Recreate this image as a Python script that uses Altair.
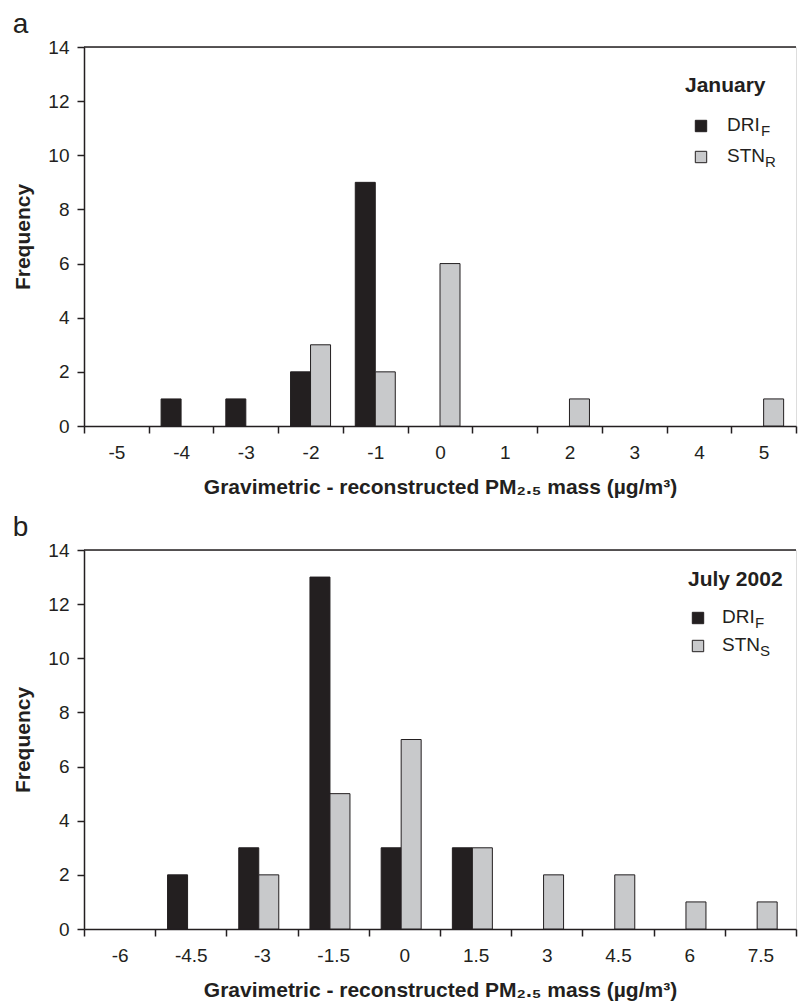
import altair as alt
import pandas as pd

# ---------------- data ----------------
cats_a = ["-5", "-4", "-3", "-2", "-1", "0", "1", "2", "3", "4", "5"]
dri_a = [0, 1, 1, 2, 9, 0, 0, 0, 0, 0, 0]
stn_a = [0, 0, 0, 3, 2, 6, 0, 1, 0, 0, 1]

cats_b = ["-6", "-4.5", "-3", "-1.5", "0", "1.5", "3", "4.5", "6", "7.5"]
dri_b = [0, 2, 3, 13, 3, 3, 0, 0, 0, 0]
stn_b = [0, 0, 2, 5, 7, 3, 2, 2, 1, 1]

methods = ["DRI", "STN"]
y_ticks = [0, 2, 4, 6, 8, 10, 12, 14]
x_title = "Gravimetric - reconstructed PM\u2082.\u2085 mass (\u00b5g/m\u00b3)"

INK = "#231f20"
BLACK_BAR = "#231f20"
GRAY_BAR = "#c8c9cb"
FONT = "Liberation Sans"


def long_df(cats, dri, stn):
    rows = []
    for c, d, s in zip(cats, dri, stn):
        if d:
            rows.append({"bin": c, "method": "DRI", "count": d})
        if s:
            rows.append({"bin": c, "method": "STN", "count": s})
    return pd.DataFrame(rows)


def panel(letter, cats, dri, stn, leg_title, stn_sub, width, off_pad, L):
    df = long_df(cats, dri, stn)
    bars = alt.Chart(df).mark_bar(stroke=INK, strokeWidth=1).encode(
        x=alt.X(
            "bin:N",
            sort=cats,
            scale=alt.Scale(domain=cats, paddingInner=0, paddingOuter=0),
            axis=alt.Axis(
                title=x_title,
                labelAngle=0,
                tickBand="extent",
                tickSize=7,
                tickWidth=1.5,
                tickColor=INK,
                domainColor=INK,
                domainWidth=1.5,
                labelFontSize=19,
                labelColor=INK,
                labelPadding=10,
                titleFontSize=21,
                titleFontWeight="bold",
                titleColor=INK,
                titlePadding=14,
                labelFont=FONT,
                titleFont=FONT,
            ),
        ),
        xOffset=alt.XOffset(
            "method:N",
            scale=alt.Scale(domain=methods, paddingInner=0, paddingOuter=off_pad),
        ),
        y=alt.Y(
            "count:Q",
            scale=alt.Scale(domain=[0, 14], nice=False),
            axis=alt.Axis(
                title="Frequency",
                values=y_ticks,
                grid=False,
                tickSize=7,
                tickWidth=1.5,
                tickColor=INK,
                domainColor=INK,
                domainWidth=1.5,
                labelFontSize=19,
                labelColor=INK,
                labelPadding=8,
                titleFontSize=21,
                titleFontWeight="bold",
                titleColor=INK,
                titlePadding=14,
                labelFont=FONT,
                titleFont=FONT,
            ),
        ),
        color=alt.Color(
            "method:N",
            scale=alt.Scale(domain=methods, range=[BLACK_BAR, GRAY_BAR]),
            legend=None,
        ),
    )

    top = alt.Chart(pd.DataFrame({"top": [14]})).mark_rule(
        color=INK, strokeWidth=1.5
    ).encode(y="top:Q")

    one = pd.DataFrame({"k": [0]})

    def txt(s, x, y, size, weight="normal"):
        return alt.Chart(one).mark_text(
            text=s, align="left", baseline="alphabetic", fontSize=size,
            fontWeight=weight, font=FONT, color=INK
        ).encode(x=alt.value(x), y=alt.value(y))

    def sq(x, y, fill):
        return alt.Chart(one).mark_square(
            size=130, fill=fill, stroke=INK, strokeWidth=1, opacity=1
        ).encode(x=alt.value(x), y=alt.value(y))

    legend = [
        txt(leg_title, L["tx"], L["ty"], 21, "bold"),
        sq(L["sx"], L["s1"], BLACK_BAR),
        sq(L["sx"], L["s2"], GRAY_BAR),
        txt("DRI", L["lx"], L["b1"], 19),
        txt("F", L["f1"], L["b1"] + 5, 15),
        txt("STN", L["lx"], L["b2"], 19),
        txt(stn_sub, L["f2"], L["b2"] + 5, 15),
    ]

    return alt.layer(bars, top, *legend).properties(
        width=width,
        height=379,
        title=alt.TitleParams(
            letter, anchor="start", fontSize=28, fontWeight="normal",
            font=FONT, color=INK, offset=-1,
        ),
    )


La = dict(tx=601, ty=45, sx=617, s1=79, s2=110, lx=643, b1=84, b2=115, f1=677, f2=681)
Lb = dict(tx=604, ty=36, sx=614, s1=68, s2=96, lx=638, b1=73, b2=101, f1=671, f2=676)

pa = panel("a", cats_a, dri_a, stn_a, "January", "R", 712, 0.618, La)
pb = panel("b", cats_b, dri_b, stn_b, "July 2002", "S", 712, 0.737, Lb)

chart = alt.vconcat(pa, pb, spacing=15).properties(
    padding={"left": 4, "top": 2, "right": 0, "bottom": 0}
).configure_view(stroke=None).configure(font=FONT)

chart.save("out.html", embed_options={"renderer": "svg", "actions": False})
